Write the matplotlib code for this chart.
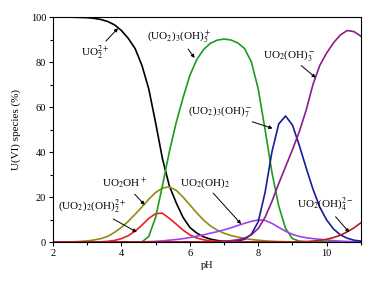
import numpy as np
import matplotlib
matplotlib.use("Agg")
import matplotlib.pyplot as plt
from matplotlib.ticker import MultipleLocator

plt.rcParams['font.family'] = ['Liberation Serif', 'DejaVu Serif']
plt.rcParams['mathtext.fontset'] = 'stix'

ph = [2.0, 2.2, 2.4, 2.6, 2.8, 3.0, 3.2, 3.4, 3.6, 3.8,
      4.0, 4.2, 4.4, 4.6, 4.8, 5.0, 5.2, 5.4, 5.6, 5.8,
      6.0, 6.2, 6.4, 6.6, 6.8, 7.0, 7.2, 7.4, 7.6, 7.8,
      8.0, 8.2, 8.4, 8.6, 8.8, 9.0, 9.2, 9.4, 9.6, 9.8,
      10.0, 10.2, 10.4, 10.6, 10.8, 11.0]

uo2 = [100, 100, 100, 99.9, 99.8, 99.7, 99.4, 98.9, 98.0, 96.5,
       94, 90.5, 86, 78.5, 68, 53, 37, 25, 17.5, 11,
       6.5, 4, 2.3, 1.3, 0.7, 0.3, 0.15, 0.05, 0, 0,
       0, 0, 0, 0, 0, 0, 0, 0, 0, 0,
       0, 0, 0, 0, 0, 0]

uo2oh = [0, 0, 0.05, 0.1, 0.25, 0.5, 0.9, 1.5, 2.5, 4.3,
         6.5, 9.2, 12.3, 15.6, 19, 22, 24, 24.5, 23, 20,
         16.5, 13, 9.8, 7.2, 5.3, 3.9, 2.9, 2.2, 1.6, 1.1,
         0.8, 0.5, 0.35, 0.2, 0.12, 0.07, 0.03, 0, 0, 0,
         0, 0, 0, 0, 0, 0]

uo2_2oh2 = [0, 0, 0, 0, 0, 0, 0, 0.1, 0.3, 0.7,
            1.5, 2.8, 4.8, 7.5, 10.5, 12.6, 12.8, 10.5, 8, 5.3,
            3.2, 1.8, 1.0, 0.5, 0.25, 0.1, 0.05, 0, 0, 0,
            0, 0, 0, 0, 0, 0, 0, 0, 0, 0,
            0, 0, 0, 0, 0, 0]

uo2_3oh5 = [0, 0, 0, 0, 0, 0, 0, 0, 0, 0,
            0, 0, 0, 0, 2.5, 11, 25, 40, 53, 64,
            74, 81, 85.5, 88.3, 89.7, 90.2, 89.8, 88.5, 86, 80,
            68, 50, 31, 16, 6, 1.5, 0.4, 0.1, 0, 0,
            0, 0, 0, 0, 0, 0]

uo2oh2 = [0, 0, 0, 0, 0, 0, 0, 0, 0, 0,
          0, 0, 0, 0.05, 0.15, 0.3, 0.5, 0.8, 1.1, 1.5,
          2.0, 2.6, 3.2, 3.9, 4.6, 5.4, 6.3, 7.3, 8.3, 9.2,
          9.8, 9.6, 8.3, 6.5, 4.8, 3.4, 2.5, 1.9, 1.5, 1.2,
          0.9, 0.6, 0.4, 0.25, 0.15, 0.1]

uo2_3oh7 = [0, 0, 0, 0, 0, 0, 0, 0, 0, 0,
            0, 0, 0, 0, 0, 0, 0, 0, 0, 0,
            0, 0, 0, 0, 0.05, 0.1, 0.2, 0.5, 1.2, 3.5,
            9, 22, 40, 52.5, 56, 52, 43, 33, 23.5, 15.5,
            9.8, 5.8, 3.2, 1.7, 0.8, 0.4]

uo2oh3 = [0, 0, 0, 0, 0, 0, 0, 0, 0, 0,
          0, 0, 0, 0, 0, 0, 0, 0, 0, 0,
          0, 0, 0.05, 0.1, 0.2, 0.35, 0.6, 1.0, 1.7, 3.2,
          6, 11, 18, 26, 33.5, 41, 49, 58.5, 70, 78.5,
          84, 88.5, 92, 94, 93.5, 91.5]

uo2oh4 = [0, 0, 0, 0, 0, 0, 0, 0, 0, 0,
          0, 0, 0, 0, 0, 0, 0, 0, 0, 0,
          0, 0, 0, 0, 0, 0, 0, 0, 0, 0,
          0, 0, 0, 0, 0, 0.05, 0.1, 0.2, 0.4, 0.7,
          1.2, 2.0, 3.0, 4.5, 6.3, 8.5]

series = [
    (uo2, 'black'),
    (uo2oh, '#8c8c14'),
    (uo2_2oh2, '#e82020'),
    (uo2_3oh5, '#1f9a1f'),
    (uo2oh2, '#a040f0'),
    (uo2_3oh7, '#1a1a9a'),
    (uo2oh3, '#8e1a8e'),
    (uo2oh4, '#b81c1c'),
]

fig = plt.figure(figsize=(3.88, 2.82), dpi=100)
ax = fig.add_axes([0.1366, 0.1418, 0.7934, 0.7979])

for vals, c in series:
    ax.plot(ph, vals, color=c, lw=1.2)

ax.set_xlim(2, 11)
ax.set_ylim(0, 100)
ax.xaxis.set_major_locator(MultipleLocator(2))
ax.xaxis.set_minor_locator(MultipleLocator(1))
ax.yaxis.set_major_locator(MultipleLocator(20))
ax.yaxis.set_minor_locator(MultipleLocator(10))
ax.tick_params(which='both', direction='out', top=False, right=False, labelsize=7.5)
ax.tick_params(which='major', length=3, width=0.8, pad=2)
ax.tick_params(which='minor', length=2, width=0.8)
for s in ax.spines.values():
    s.set_linewidth(0.8)

ax.set_xlabel('pH', fontsize=7.5, labelpad=2)
ax.set_ylabel('U(VI) species (%)', fontsize=8, labelpad=7)

arrow = dict(arrowstyle='-|>', color='black', lw=0.7, mutation_scale=5,
             shrinkA=0, shrinkB=0)
fs = 8

def ann(text, txy, axy):
    ax.annotate(text, xy=axy, xytext=txy, fontsize=fs, ha='center', va='center',
                arrowprops=arrow)

ann(r'UO$_2^{2+}$', (3.22, 84), (3.9, 95))
ann(r'(UO$_2$)$_3$(OH)$_5^+$', (5.7, 91), (6.14, 81.8))
ann(r'UO$_2$(OH)$_3^-$', (8.9, 83), (9.68, 73))
ann(r'(UO$_2$)$_3$(OH)$_7^-$', (6.9, 58), (8.42, 50.5))
ann(r'UO$_2$OH$^+$', (4.1, 26), (4.68, 16.5))
ann(r'(UO$_2$)$_2$(OH)$_2^{2+}$', (3.14, 15.5), (4.45, 4.4))
ann(r'UO$_2$(OH)$_2$', (6.43, 26), (7.5, 8))
ann(r'UO$_2$(OH)$_4^{2-}$', (9.96, 16.5), (10.66, 4.3))

fig.savefig('out.png', dpi=100)
